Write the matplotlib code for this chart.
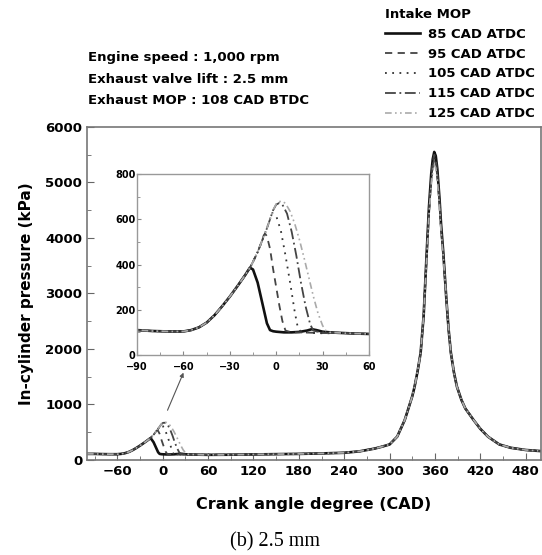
import matplotlib
matplotlib.use("Agg")
import matplotlib.pyplot as plt
from matplotlib.ticker import MultipleLocator

plt.rcParams['font.family'] = ['DejaVu Sans']

# intake region (crank angle, pressure) for each intake MOP
cad_85 = [-100, -90, -80, -70, -60, -55, -50, -45, -40, -35, -30, -25, -20, -17, -15, -12, -9, -6, -4, -2, 0, 5, 10, 15, 20, 23, 26, 30, 35]
p_85 = [110, 110, 106, 104, 104, 110, 122, 143, 175, 215, 258, 305, 354, 386, 378, 320, 230, 140, 110, 105, 103, 100, 100, 102, 108, 114, 110, 103, 100]

cad_95 = [-100, -90, -80, -70, -60, -55, -50, -45, -40, -35, -30, -25, -20, -17, -15, -12, -10, -8, -7, -6, -4, -2, 0, 2, 4, 6, 10, 15, 20, 25, 30, 35]
p_95 = [110, 110, 106, 104, 104, 110, 122, 143, 175, 215, 258, 305, 354, 386, 412, 455, 490, 530, 535, 525, 470, 380, 300, 220, 150, 108, 100, 100, 99, 98, 97, 97]

cad_105 = [-100, -90, -80, -70, -60, -55, -50, -45, -40, -35, -30, -25, -20, -17, -15, -12, -10, -8, -6, -4, -3, 0, 3, 6, 9, 12, 14, 16, 20, 25, 30, 35]
p_105 = [110, 110, 106, 104, 104, 110, 122, 143, 175, 215, 258, 305, 354, 386, 412, 455, 490, 525, 560, 600, 630, 615, 550, 440, 320, 190, 120, 102, 99, 97, 96, 96]

cad_115 = [-100, -90, -80, -70, -60, -55, -50, -45, -40, -35, -30, -25, -20, -17, -15, -12, -10, -8, -6, -4, -2, 0, 2, 4, 7, 10, 13, 16, 19, 22, 24, 26, 30, 35]
p_115 = [110, 110, 106, 104, 104, 110, 122, 143, 175, 215, 258, 305, 354, 386, 412, 455, 490, 525, 560, 600, 640, 665, 672, 665, 625, 545, 440, 320, 215, 135, 108, 104, 100, 98]

cad_125 = [-100, -90, -80, -70, -60, -55, -50, -45, -40, -35, -30, -25, -20, -17, -15, -12, -10, -8, -6, -4, -2, 0, 2, 4, 6, 9, 12, 15, 18, 21, 24, 27, 30, 32, 35]
p_125 = [110, 110, 106, 104, 104, 110, 122, 143, 175, 215, 258, 305, 354, 386, 412, 455, 490, 525, 560, 600, 640, 668, 678, 680, 670, 635, 580, 510, 430, 345, 260, 185, 130, 108, 100]

# compression stroke, shared by all cases
cad_mid = [40, 50, 60, 90, 120, 150, 180, 210, 240, 260, 280, 290, 300, 310, 320, 330, 333, 337, 341, 345]
p_mid = [98, 95, 93, 95, 100, 105, 110, 118, 130, 155, 205, 240, 280, 420, 720, 1150, 1320, 1600, 1930, 2600]

# around firing TDC
cad_top = [349, 352, 355, 357, 359, 361, 363, 366, 368, 371]
p_top_85 = [3730, 4550, 5150, 5420, 5550, 5480, 5250, 4700, 4250, 3730]
p_top_95 = [3700, 4500, 5100, 5370, 5500, 5430, 5200, 4650, 4200, 3700]
p_top_105 = [3680, 4480, 5060, 5330, 5450, 5380, 5160, 4620, 4180, 3690]
p_top_115 = [3650, 4450, 5020, 5280, 5400, 5330, 5120, 4600, 4150, 3680]
p_top_125 = [3620, 4400, 4950, 5200, 5320, 5260, 5060, 4550, 4120, 3660]

# expansion stroke, shared
cad_tail = [375, 378, 381, 385, 389, 395, 400, 411, 420, 430, 445, 460, 480, 500]
p_tail = [2900, 2350, 1930, 1580, 1320, 1080, 930, 720, 560, 420, 280, 220, 180, 160]

labels = ["85 CAD ATDC", "95 CAD ATDC", "105 CAD ATDC", "115 CAD ATDC", "125 CAD ATDC"]
intake_cad = [cad_85, cad_95, cad_105, cad_115, cad_125]
intake_p = [p_85, p_95, p_105, p_115, p_125]
top_p = [p_top_85, p_top_95, p_top_105, p_top_115, p_top_125]

colors = ["#111111", "#444444", "#333333", "#444444", "#aaaaaa"]
styles = ["-", (0, (4, 3)), (0, (1, 3)), (0, (6, 2, 1, 2)), (0, (4, 2, 1, 2, 1, 2))]
widths = [1.9, 1.3, 1.3, 1.3, 1.2]

fig = plt.figure(figsize=(5.42, 5.55), dpi=100)
ax = fig.add_axes([0.1605, 0.1712, 0.8375, 0.6])
ins = fig.add_axes([0.2528, 0.3604, 0.428, 0.326])

for i in range(5):
    x = intake_cad[i] + cad_mid + cad_top + cad_tail
    y = intake_p[i] + p_mid + top_p[i] + p_tail
    ax.plot(x, y, color=colors[i], linestyle=styles[i], linewidth=widths[i], label=labels[i])
    ins.plot(intake_cad[i] + cad_mid, intake_p[i] + p_mid, color=colors[i],
             linestyle=styles[i], linewidth=widths[i])

ax.set_xlim(-100, 500)
ax.set_ylim(0, 6000)
ax.xaxis.set_major_locator(MultipleLocator(60))
ax.xaxis.set_minor_locator(MultipleLocator(30))
ax.yaxis.set_major_locator(MultipleLocator(1000))
ax.yaxis.set_minor_locator(MultipleLocator(500))
ax.set_xticks([-60, 0, 60, 120, 180, 240, 300, 360, 420, 480])
ax.tick_params(which="both", direction="in", color="#666666")
ax.tick_params(which="major", length=5, labelsize=9.5)
ax.tick_params(which="minor", length=3)
for lab in ax.get_xticklabels() + ax.get_yticklabels():
    lab.set_fontweight("bold")
for s in ax.spines.values():
    s.set_color("#777777")
    s.set_linewidth(1.2)
ax.set_xlabel("Crank angle degree (CAD)", fontsize=11.5, fontweight="bold", labelpad=14)
ax.set_ylabel("In-cylinder pressure (kPa)", fontsize=11, fontweight="bold", labelpad=8)

ins.set_xlim(-90, 60)
ins.set_ylim(0, 800)
ins.xaxis.set_major_locator(MultipleLocator(30))
ins.xaxis.set_minor_locator(MultipleLocator(15))
ins.yaxis.set_major_locator(MultipleLocator(200))
ins.yaxis.set_minor_locator(MultipleLocator(100))
ins.tick_params(which="both", direction="in", color="#888888")
ins.tick_params(axis="y", pad=1)
ins.tick_params(axis="x", pad=5)
ins.tick_params(which="major", length=3, labelsize=7)
ins.tick_params(which="minor", length=2)
for lab in ins.get_xticklabels() + ins.get_yticklabels():
    lab.set_fontweight("bold")
for s in ins.spines.values():
    s.set_color("#999999")
    s.set_linewidth(1.0)

ax.annotate("", xy=(29, 1620), xytext=(5, 850),
            arrowprops=dict(arrowstyle="-|>", color="#555555", lw=0.8, mutation_scale=6))

leg = fig.legend(loc="upper left", bbox_to_anchor=(0.695, 1.0), frameon=False,
                 title="Intake MOP", alignment="left", handlelength=2.7,
                 handletextpad=0.6, labelspacing=0.52, borderaxespad=0.2,
                 prop={"weight": "bold", "size": 9.5},
                 title_fontproperties={"weight": "bold", "size": 9.5})

info = ["Engine speed : 1,000 rpm", "Exhaust valve lift : 2.5 mm", "Exhaust MOP : 108 CAD BTDC"]
for k, t in enumerate(info):
    fig.text(88 / 542, 1 - (58 + 21.5 * k) / 555, t, fontsize=9.5, fontweight="bold", va="center")

fig.text(275 / 542, 1 - 542 / 555, "(b) 2.5 mm", fontsize=14.5, family="Liberation Serif",
         ha="center", va="center")

fig.savefig("out.png", dpi=100)
